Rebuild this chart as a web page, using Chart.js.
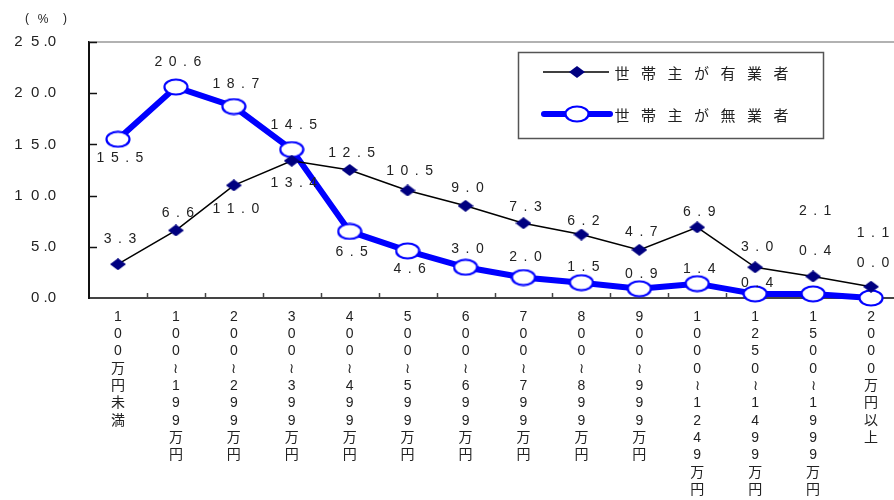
<!DOCTYPE html>
<html>
<head>
<meta charset="utf-8">
<script src="https://cdn.jsdelivr.net/npm/chart.js@4/dist/chart.umd.min.js"></script>
<style>
html,body{margin:0;padding:0;overflow:hidden;background:#fff}
</style>
</head>
<body>
<canvas id="graph" width="910" height="500"></canvas>
<script>
// datos
const categorias = ['100万円未満','100～199万円','200～299万円','300～399万円','400～499万円',
  '500～599万円','600～699万円','700～799万円','800～899万円','900～999万円',
  '1000～1249万円','1250～1499万円','1500～1999万円','2000万円以上']
const nombres = ['世帯主が有業者','世帯主が無業者']
const yugyo = [3.3,6.6,11.0,13.4,12.5,10.5,9.0,7.3,6.2,4.7,6.9,3.0,2.1,1.1]
const mugyo = [15.5,20.6,18.7,14.5,6.5,4.6,3.0,2.0,1.5,0.9,1.4,0.4,0.4,0.0]
const yTicks = [0,5,10,15,20,25]

// desplazamiento vertical de las etiquetas (px)
const dyYugyo = [-25,-17,24,22,-17,-19,-18,-16,-13,-18,-15,-20,-65,-54]
const dyMugyo = [19,-25,-22,-24,21,18,-18,-20,-15,-15,-15,-11,-43,-35]

const FONT = '"Liberation Sans", "Noto Sans CJK JP", sans-serif'
const FONT_JP = '"Noto Sans CJK JP", sans-serif'

// marcadores
function rombo(){
  const c = document.createElement('canvas'); c.width = 16; c.height = 12
  const g = c.getContext('2d')
  g.fillStyle = '#000080'
  g.beginPath(); g.moveTo(0,6); g.lineTo(8,0); g.lineTo(16,6); g.lineTo(8,12); g.closePath(); g.fill()
  return c
}
function ovalo(){
  const c = document.createElement('canvas'); c.width = 26; c.height = 18
  const g = c.getContext('2d')
  g.fillStyle = '#fff'; g.strokeStyle = '#0000ff'; g.lineWidth = 2.2
  g.beginPath(); g.ellipse(13,9,11.5,7.5,0,0,Math.PI*2); g.fill(); g.stroke()
  return c
}
const imgRombo = rombo()
const imgOvalo = ovalo()

function espaciado(ctx, text, x, y, gap){
  const chars = text.split('')
  const ws = chars.map(ch => ctx.measureText(ch).width)
  const total = ws.reduce((a,b)=>a+b,0) + gap*(chars.length-1)
  let cx = x - total/2
  ctx.textAlign = 'left'
  chars.forEach((ch,i) => { ctx.fillText(ch, cx, y); cx += ws[i] + gap })
}

const extras = {
  id: 'extras',
  beforeDatasetsDraw(chart){
    const ctx = chart.ctx, a = chart.chartArea
    const x = chart.scales.x, y = chart.scales.y
    ctx.save()
    // borde superior
    ctx.strokeStyle = '#999'; ctx.lineWidth = 1.5
    ctx.beginPath(); ctx.moveTo(a.left, a.top); ctx.lineTo(a.right, a.top); ctx.stroke()
    // marcas hacia dentro
    ctx.strokeStyle = '#111'
    yTicks.forEach(v => {
      if (v === 0) return
      const py = Math.round(y.getPixelForValue(v)) + 0.5
      ctx.beginPath(); ctx.moveTo(a.left, py); ctx.lineTo(a.left + 8, py); ctx.stroke()
    })
    ctx.strokeStyle = '#444'
    for (let i = 1; i < categorias.length; i++){
      const px = Math.round((x.getPixelForValue(i-1) + x.getPixelForValue(i))/2) + 0.5
      ctx.beginPath(); ctx.moveTo(px, a.bottom); ctx.lineTo(px, a.bottom - 5); ctx.stroke()
    }
    // (%)
    ctx.fillStyle = '#222'; ctx.font = '12px ' + FONT; ctx.textBaseline = 'middle'
    ctx.textAlign = 'center'
    ctx.fillText('(', 27, 19); ctx.fillText('%', 43, 20); ctx.fillText(')', 65, 19)
    ctx.restore()
  },
  afterDatasetsDraw(chart){
    const ctx = chart.ctx
    ctx.save()
    ctx.fillStyle = '#222'; ctx.font = '14px ' + FONT; ctx.textBaseline = 'middle'
    const offs = [dyYugyo, dyMugyo]
    chart.data.datasets.forEach((ds, d) => {
      const meta = chart.getDatasetMeta(d)
      meta.data.forEach((pt, i) => {
        espaciado(ctx, ds.data[i].toFixed(1), pt.x + 2, pt.y + offs[d][i], 6.5)
      })
    })
    // leyenda
    ctx.strokeStyle = '#555'; ctx.lineWidth = 1.5
    ctx.strokeRect(518.5, 52.5, 305, 86)
    const filas = [72, 114]
    chart.data.datasets.forEach((ds, d) => {
      const fy = filas[d]
      ctx.strokeStyle = ds.borderColor; ctx.lineWidth = ds.borderWidth; ctx.lineCap = d ? 'round' : 'butt'
      ctx.beginPath(); ctx.moveTo(d ? 544 : 543, fy); ctx.lineTo(d ? 610 : 609, fy); ctx.stroke()
      const im = ds.pointStyle
      ctx.drawImage(im, 577 - im.width/2, fy - im.height/2)
      ctx.font = '15px ' + FONT_JP; ctx.fillStyle = '#222'; ctx.textAlign = 'center'
      ds.label.split('').forEach((ch, k) => ctx.fillText(ch, 622 + k*26.5, fy + 1))
    })
    ctx.restore()
  }
}

function etiquetaY(v){
  const s = v.toFixed(1).split('.')
  return s[0].split('').join('  ') + ' .' + s[1]
}

const data = {
  labels: categorias.map(c => c.replace('～','≀').split('')),
  datasets: [{
    label: nombres[0],
    data: yugyo,
    borderColor: '#000000',
    borderWidth: 1.5,
    pointStyle: imgRombo,
    clip: false
  },{
    label: nombres[1],
    data: mugyo,
    borderColor: '#0000ff',
    borderWidth: 6,
    pointStyle: imgOvalo,
    clip: false
  }]
}

const config = {
  type: 'line',
  data: data,
  options: {
    responsive: false,
    devicePixelRatio: 1,
    animation: false,
    layout: { padding: { top: 33, right: 3, left: 0, bottom: 0 } },
    elements: { line: { tension: 0 } },
    plugins: { legend: { display: false }, tooltip: { enabled: false } },
    scales: {
      x: {
        offset: true,
        grid: { display: false, drawTicks: false },
        border: { color: '#444', width: 2 },
        ticks: {
          autoSkip: false, maxRotation: 0, minRotation: 0, padding: 10,
          color: '#222', font: { size: 14, family: FONT, lineHeight: 1.24 }
        },
        afterFit(s){ s.height = 202 }
      },
      y: {
        min: 0, max: 25,
        afterBuildTicks(s){ s.ticks = yTicks.map(v => ({ value: v })) },
        grid: { display: false, drawTicks: false },
        border: { color: '#111', width: 2 },
        ticks: {
          padding: 33, color: '#222', font: { size: 15, family: FONT },
          callback: v => etiquetaY(v)
        },
        afterFit(s){ s.width = 89 }
      }
    }
  },
  plugins: [extras]
}

const myChart = new Chart(document.getElementById('graph'), config)
</script>
</body>
</html>
